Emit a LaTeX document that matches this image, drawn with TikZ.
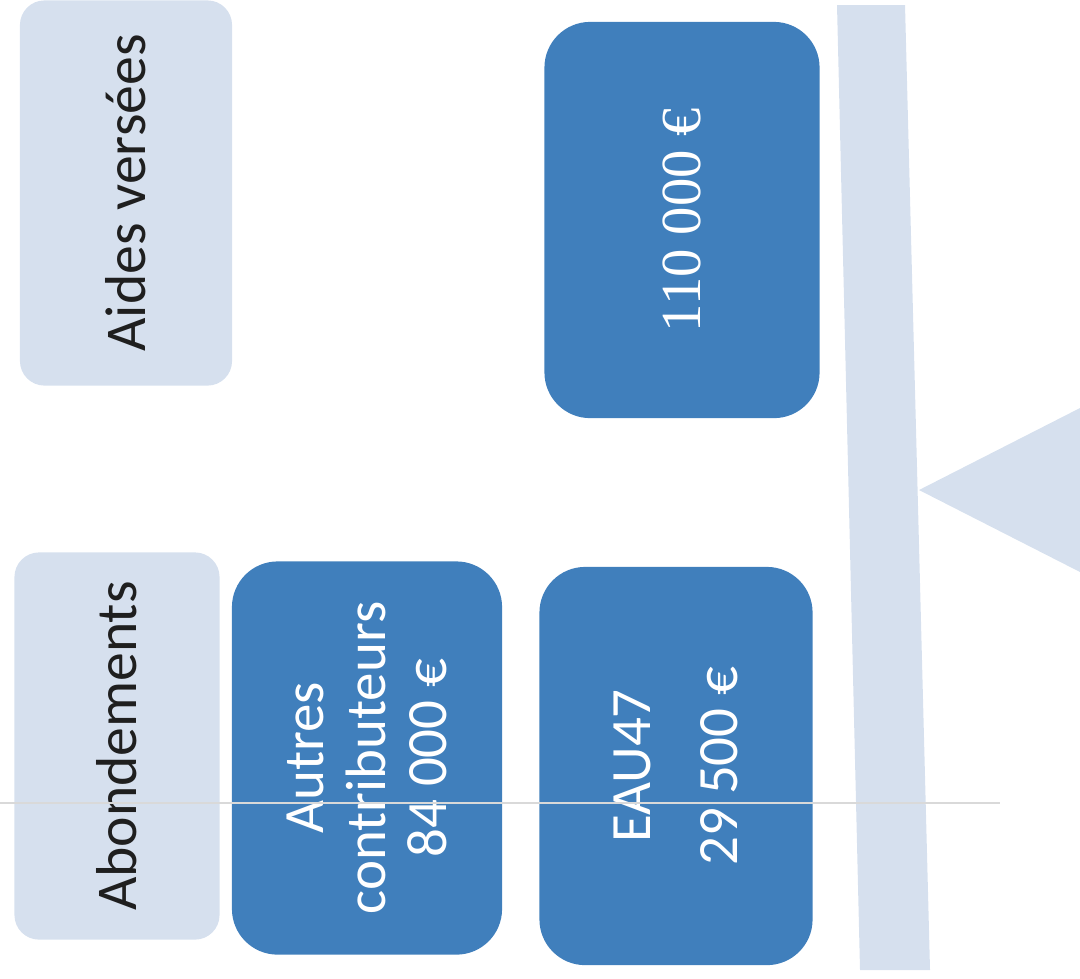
\documentclass[tikz,border=0pt]{standalone}
\usepackage{fontspec}
\setmainfont{Carlito}
\newfontfamily\chiffres{Liberation Serif}
\usepackage{tikz}
\definecolor{bleufonce}{RGB}{64,127,188}
\definecolor{bleuclair}{RGB}{214,224,238}
\tikzset{
  titre/.style={fill=bleuclair, rounded corners=7pt, rotate=90, inner sep=0pt,
    text=black!88, align=center, font=\fontsize{16.4}{19.7}\selectfont},
  montant/.style={fill=bleufonce, rounded corners=13pt, rotate=90, inner sep=0pt,
    text=white, align=center, font=\fontsize{16.2}{17.6}\selectfont},
}

\begin{document}
\begin{tikzpicture}[x=0.01cm,y=-0.01cm]
  \useasboundingbox (0,0) rectangle (1080,978);
  % fléau et pivot de la balance
  \fill[bleuclair] (837,5) -- (905,5) -- (930,970) -- (860,970) -- cycle;
  \fill[bleuclair] (919,490) -- (1080,408) -- (1080,572) -- cycle;
  \node[titre, minimum width=3.85cm, minimum height=2.12cm] (aides) at (126,193) {Aides versées};
  \node[titre, minimum width=3.87cm, minimum height=2.05cm] (abond) at (117,746) {Abondements};
  \node[montant, minimum width=3.93cm, minimum height=2.70cm] (autres) at (367,758) {Autres\\contributeurs\\84 000 €};
  \node[montant, minimum width=3.98cm, minimum height=2.73cm] (eau) at (676,766) {EAU47\\[7pt]29 500 €};
  \node[montant, minimum width=3.96cm, minimum height=2.75cm] (total) at (682,220) {\chiffres\fontsize{16.1}{19}\selectfont 110 000 €};
  \draw[black!15, line width=0.4pt] (0,803) -- (1000,803);
\end{tikzpicture}
\end{document}
